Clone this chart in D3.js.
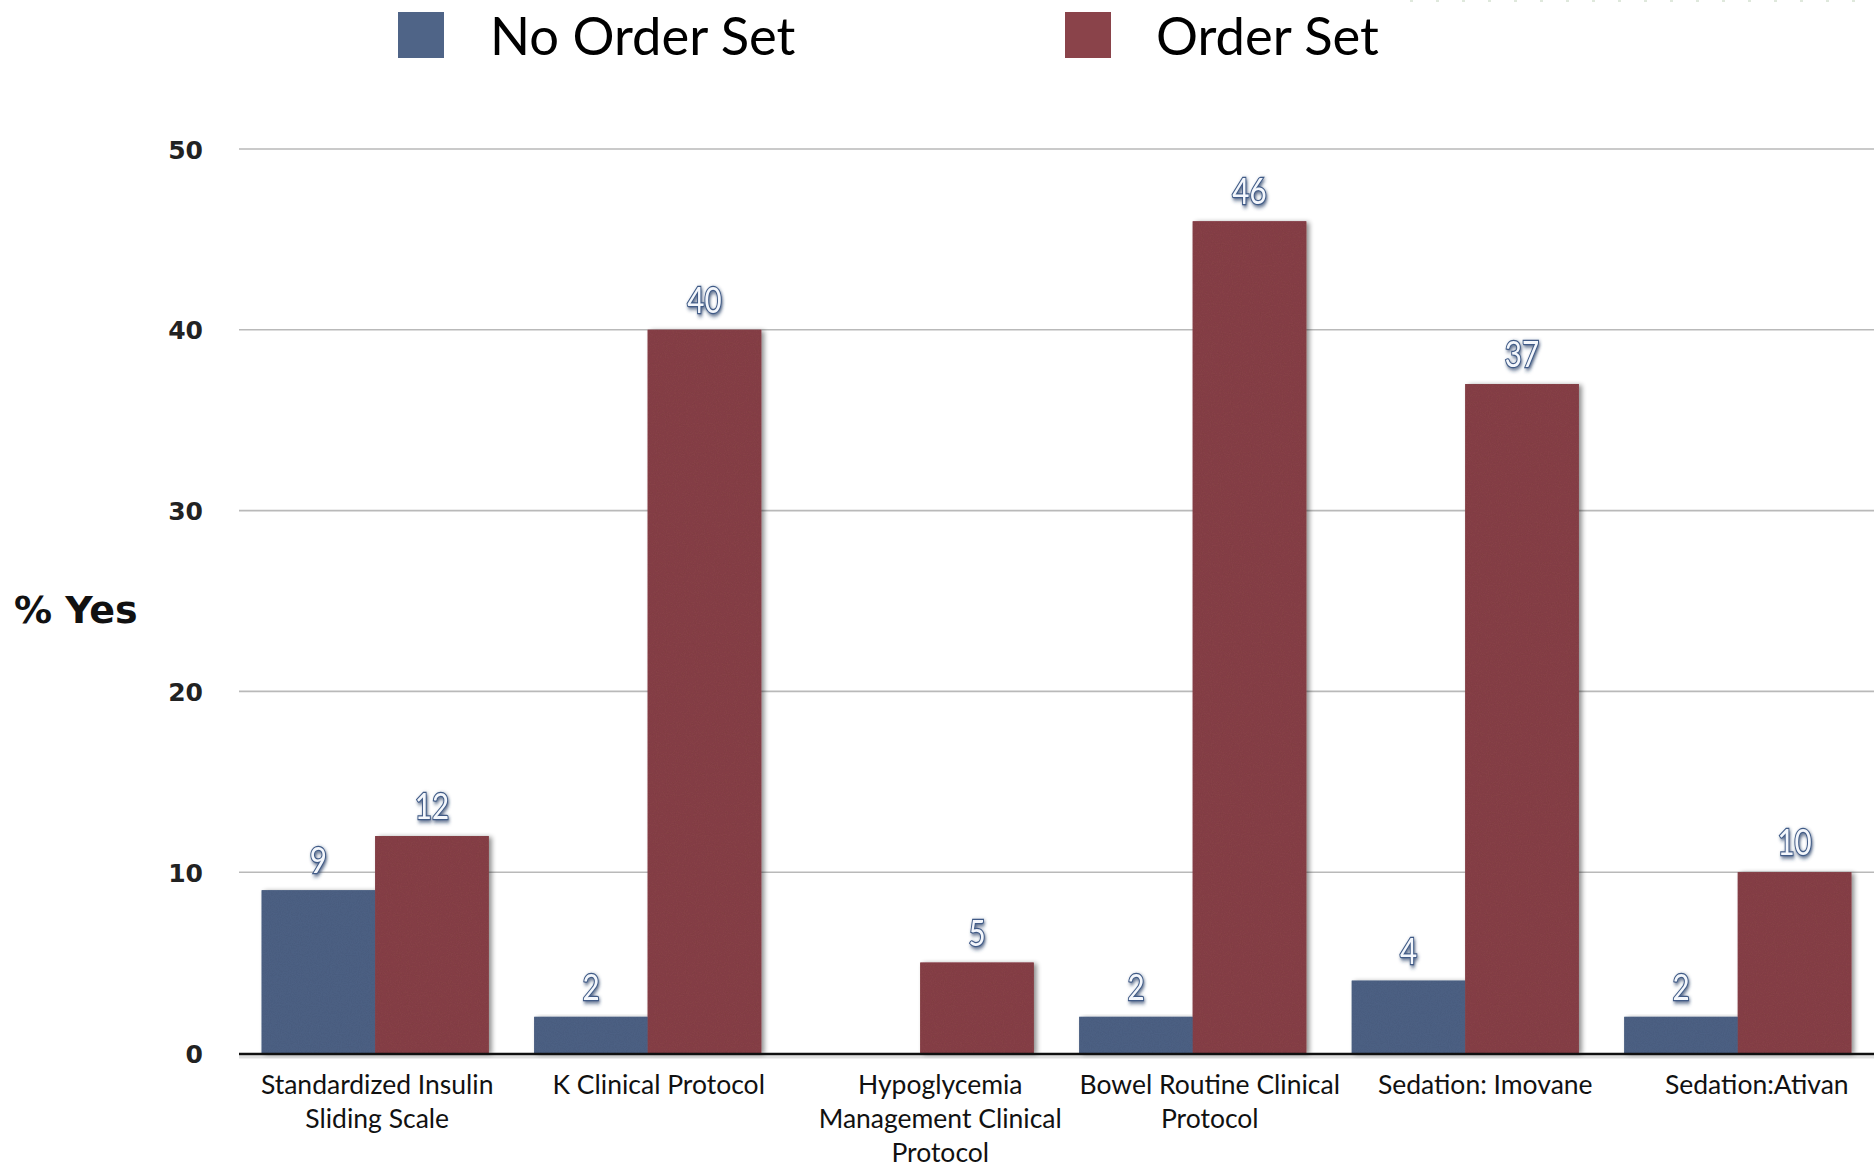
<!DOCTYPE html>
<html>
<head>
<meta charset="utf-8">
<script src="https://cdn.jsdelivr.net/npm/d3@7"></script>
<style>
  html, body { margin: 0; padding: 0; background: #ffffff; }
  svg { display: block; }
</style>
</head>
<body>
<svg id="chart" width="1874" height="1169"></svg>
<script>
// Chart data
const categories = [
  ["Standardized Insulin", "Sliding Scale"],
  ["K Clinical Protocol"],
  ["Hypoglycemia", "Management Clinical", "Protocol"],
  ["Bowel Routine Clinical", "Protocol"],
  ["Sedation: Imovane"],
  ["Sedation:Ativan"]
];
const seriesNames = ["No Order Set", "Order Set"];
const noOrderSet = [9, 2, 0, 2, 4, 2];
const orderSet = [12, 40, 5, 46, 37, 10];
const yTicks = [0, 10, 20, 30, 40, 50];
const colors = ["#4f6487", "#8a434a"];

const svg = d3.select("#chart");
const plot = { left: 239, right: 1874, top: 149, bottom: 1053 };
// small horizontal nudges for the category captions
const captionShift = [2, 11, 20, 17, 20, 19];

const defs = svg.append("defs");
// soft right/bottom shadow under bars
const shadow = defs.append("filter").attr("id", "barShadow")
  .attr("x", "-10%").attr("y", "-10%").attr("width", "130%").attr("height", "130%");
shadow.append("feGaussianBlur").attr("in", "SourceAlpha").attr("stdDeviation", 2.5).attr("result", "b");
shadow.append("feOffset").attr("in", "b").attr("dx", 3).attr("dy", 1).attr("result", "o");
shadow.append("feComponentTransfer").attr("in", "o").attr("result", "s")
  .append("feFuncA").attr("type", "linear").attr("slope", 0.45);
const sm = shadow.append("feMerge");
sm.append("feMergeNode").attr("in", "s");
sm.append("feMergeNode").attr("in", "SourceGraphic");

// fine grain texture on bars
const grain = defs.append("filter").attr("id", "grain");
grain.append("feTurbulence").attr("type", "fractalNoise").attr("baseFrequency", 0.9)
  .attr("numOctaves", 2).attr("seed", 4).attr("result", "n");
grain.append("feColorMatrix").attr("in", "n").attr("type", "matrix")
  .attr("values", "0 0 0 0 0  0 0 0 0 0  0 0 0 0 0  0 0 0 0.18 0").attr("result", "na");
grain.append("feComposite").attr("in", "na").attr("in2", "SourceGraphic").attr("operator", "in").attr("result", "nc");
const gm = grain.append("feMerge");
gm.append("feMergeNode").attr("in", "SourceGraphic");
gm.append("feMergeNode").attr("in", "nc");

// glow for value labels
const glow = defs.append("filter").attr("id", "labelGlow")
  .attr("x", "-40%").attr("y", "-40%").attr("width", "180%").attr("height", "180%");
glow.append("feGaussianBlur").attr("in", "SourceAlpha").attr("stdDeviation", 2).attr("result", "b");
glow.append("feOffset").attr("in", "b").attr("dx", 1).attr("dy", 2).attr("result", "o");
glow.append("feFlood").attr("flood-color", "#223a63").attr("flood-opacity", 0.8);
glow.append("feComposite").attr("in2", "o").attr("operator", "in").attr("result", "s");
const lm = glow.append("feMerge");
lm.append("feMergeNode").attr("in", "s");
lm.append("feMergeNode").attr("in", "SourceGraphic");

// Scales
const x0 = d3.scaleBand()
  .domain(d3.range(categories.length))
  .range([plot.left, plot.right])
  .paddingInner(0.167)
  .paddingOuter(0.0833);
const x1 = d3.scaleBand()
  .domain([0, 1])
  .range([0, x0.bandwidth()]);
const y = d3.scaleLinear().domain([0, 50]).range([plot.bottom, plot.top]);

// Gridlines
svg.append("g")
  .selectAll("line")
  .data(yTicks.filter(t => t > 0))
  .join("line")
  .attr("x1", plot.left).attr("x2", plot.right)
  .attr("y1", d => y(d)).attr("y2", d => y(d))
  .attr("stroke", "#b9b9b9").attr("stroke-width", 1.6);

// Y axis tick labels
const yAxis = d3.axisLeft(y).tickValues(yTicks).tickSize(0).tickPadding(36);
const yg = svg.append("g").attr("transform", `translate(${plot.left},0)`).call(yAxis);
yg.select(".domain").remove();
yg.selectAll("text")
  .attr("font-family", "'DejaVu Sans', sans-serif")
  .attr("font-weight", "bold")
  .attr("font-size", 25)
  .attr("fill", "#222")
  .attr("dy", "0.36em");

// Y title
svg.append("text")
  .attr("x", 14).attr("y", 623)
  .attr("font-family", "'DejaVu Sans', sans-serif")
  .attr("font-weight", "bold")
  .attr("font-size", 38)
  .attr("fill", "#111")
  .text("% Yes");

// Bars
const rows = categories.map((c, i) => [noOrderSet[i], orderSet[i]]);
const groups = svg.append("g").selectAll("g")
  .data(rows)
  .join("g")
  .attr("transform", (d, i) => `translate(${x0(i)},0)`);

groups.selectAll("rect")
  .data(d => d.map((v, s) => ({ v, s })).filter(e => e.v > 0))
  .join("rect")
  .attr("x", d => x1(d.s))
  .attr("y", d => y(d.v))
  .attr("width", x1.bandwidth())
  .attr("height", d => y(0) - y(d.v))
  .attr("fill", d => colors[d.s])
  .attr("filter", "url(#barShadow)");

groups.selectAll("rect.grain")
  .data(d => d.map((v, s) => ({ v, s })).filter(e => e.v > 0))
  .join("rect")
  .attr("class", "grain")
  .attr("x", d => x1(d.s))
  .attr("y", d => y(d.v))
  .attr("width", x1.bandwidth())
  .attr("height", d => y(0) - y(d.v))
  .attr("fill", d => colors[d.s])
  .attr("filter", "url(#grain)");

// Value labels
groups.selectAll("text.val")
  .data(d => d.map((v, s) => ({ v, s })).filter(e => e.v > 0))
  .join("text")
  .attr("class", "val")
  .attr("transform", d => `translate(${x1(d.s) + x1.bandwidth() / 2},${y(d.v) - 17}) scale(0.8,1)`)
  .attr("text-anchor", "middle")
  .attr("font-family", "Lato, sans-serif")
  .attr("font-size", 37)
  .attr("fill", "#f4f7fc")
  .attr("stroke", "#3f5a86")
  .attr("stroke-width", 2.4)
  .attr("paint-order", "stroke")
  .attr("filter", "url(#labelGlow)")
  .text(d => d.v);

// Baseline
svg.append("line")
  .attr("x1", plot.left).attr("x2", plot.right)
  .attr("y1", y(0) + 1).attr("y2", y(0) + 1)
  .attr("stroke", "#111").attr("stroke-width", 2.6);
svg.append("line")
  .attr("x1", plot.left).attr("x2", plot.right)
  .attr("y1", y(0) + 4).attr("y2", y(0) + 4)
  .attr("stroke", "#000").attr("stroke-opacity", 0.12).attr("stroke-width", 3);

// Category labels
const catLabels = svg.append("g").selectAll("text")
  .data(categories)
  .join("text")
  .attr("x", (d, i) => x0(i) + x0.bandwidth() / 2 + captionShift[i])
  .attr("y", 1094)
  .attr("text-anchor", "middle")
  .attr("font-family", "Lato, sans-serif")
  .attr("font-size", 26.5)
  .attr("fill", "#111");
catLabels.selectAll("tspan")
  .data(d => d)
  .join("tspan")
  .attr("x", function() { return this.parentNode.getAttribute("x"); })
  .attr("dy", (d, i) => i === 0 ? 0 : 34)
  .text(d => d);

// Legend
const legendPos = [{ sx: 398, tx: 490 }, { sx: 1065, tx: 1156 }];
const legend = svg.append("g").selectAll("g")
  .data(seriesNames)
  .join("g");
legend.append("rect")
  .attr("x", (d, i) => legendPos[i].sx)
  .attr("y", 12)
  .attr("width", 46).attr("height", 46)
  .attr("fill", (d, i) => colors[i]);
legend.append("text")
  .attr("x", (d, i) => legendPos[i].tx)
  .attr("y", 55)
  .attr("font-family", "Lato, sans-serif")
  .attr("font-size", 52.5)
  .attr("fill", "#000")
  .text(d => d);

// faint dotted rule along the top-right edge
svg.append("line")
  .attr("x1", 1410).attr("x2", 1874).attr("y1", 1).attr("y2", 1)
  .attr("stroke", "#dfe8dc").attr("stroke-width", 2)
  .attr("stroke-dasharray", "3 23");
</script>
</body>
</html>
